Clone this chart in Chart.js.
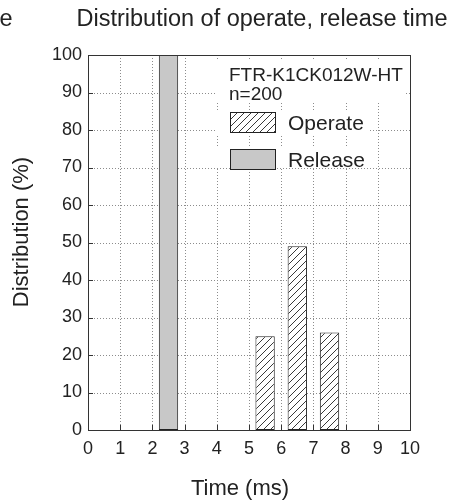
<!DOCTYPE html>
<html>
<head>
<meta charset="utf-8">
<script src="https://cdn.jsdelivr.net/npm/chart.js@4.4.1/dist/chart.umd.min.js"></script>
<style>
  html, body { margin: 0; padding: 0; background: #fff; }
</style>
</head>
<body>
<canvas id="grafico" width="454" height="502"></canvas>
<script>
// datos
const timeTicks = [0, 1, 2, 3, 4, 5, 6, 7, 8, 9, 10];
const pctTicks = [0, 10, 20, 30, 40, 50, 60, 70, 80, 90, 100];
const operateTime = [5.5, 6.5, 7.5];
const operatePct = [25, 49, 26];
const releaseTime = [2.5];
const releasePct = [100];
const seriesNames = ['Operate', 'Release'];
const modelName = 'FTR-K1CK012W-HT';
const sampleText = 'n=200';
const chartTitle = 'Distribution of operate, release time';
const xTitle = 'Time (ms)';
const yTitle = 'Distribution (%)';

const FONT = '"Liberation Sans", Arial, sans-serif';
const INK = '#222';
const canvas = document.getElementById('grafico');
const ctx = canvas.getContext('2d');

function makeHatch() {
    const c = document.createElement('canvas');
    c.width = 7; c.height = 7;
    const g = c.getContext('2d');
    g.fillStyle = '#fff';
    g.fillRect(0, 0, 7, 7);
    g.strokeStyle = '#222';
    g.lineWidth = 0.9;
    g.beginPath();
    g.moveTo(-1, 8); g.lineTo(8, -1);
    g.moveTo(-1, 1); g.lineTo(1, -1);
    g.moveTo(6, 8); g.lineTo(8, 6);
    g.stroke();
    return ctx.createPattern(c, 'repeat');
}
const hatch = makeHatch();

const marco = {
    id: 'marco',
    beforeDatasetsDraw(chart) {
        const { ctx, chartArea: a, scales: { x, y } } = chart;
        ctx.save();
        ctx.strokeStyle = '#8c8c8c';
        ctx.lineWidth = 1;
        ctx.setLineDash([1, 2]);
        ctx.beginPath();
        timeTicks.slice(1, -1).forEach(v => {
            const px = Math.round(x.getPixelForValue(v)) + 0.5;
            ctx.moveTo(px, a.top); ctx.lineTo(px, a.bottom);
        });
        pctTicks.slice(1, -1).forEach(v => {
            const py = Math.round(y.getPixelForValue(v)) + 0.5;
            ctx.moveTo(a.left, py); ctx.lineTo(a.right, py);
        });
        ctx.stroke();
        ctx.restore();
    },
    afterDatasetsDraw(chart) {
        const { ctx, chartArea: a, scales: { x, y } } = chart;
        ctx.save();
        // legend
        ctx.fillStyle = '#fff';
        ctx.fillRect(217, 60, 187, 43);
        ctx.fillRect(217, 110, 153, 25);
        ctx.fillRect(217, 146, 150, 22);
        ctx.fillStyle = INK;
        ctx.textBaseline = 'alphabetic';
        ctx.textAlign = 'left';
        ctx.font = '19px ' + FONT;
        ctx.fillText(modelName, 229, 81);
        ctx.fillText(sampleText, 229, 100);
        const ds = chart.data.datasets;
        const rows = [112, 149];
        ds.forEach((d, i) => {
            ctx.fillStyle = d.backgroundColor;
            ctx.fillRect(230, rows[i], 46, 21);
            ctx.strokeStyle = '#222';
            ctx.lineWidth = 1;
            ctx.strokeRect(230.5, rows[i] + 0.5, 45, 20);
            ctx.fillStyle = INK;
            ctx.font = '21px ' + FONT;
            ctx.fillText(d.label, 288, rows[i] + 18);
        });
        // frame
        ctx.strokeStyle = '#333';
        ctx.lineWidth = 1;
        ctx.strokeRect(Math.round(a.left) + 0.5, Math.round(a.top) + 0.5,
            Math.round(a.right - a.left), Math.round(a.bottom - a.top));
        // inward ticks
        ctx.beginPath();
        timeTicks.slice(1, -1).forEach(v => {
            const px = Math.round(x.getPixelForValue(v)) + 0.5;
            ctx.moveTo(px, a.bottom); ctx.lineTo(px, a.bottom - 5);
        });
        pctTicks.slice(1, -1).forEach(v => {
            const py = Math.round(y.getPixelForValue(v)) + 0.5;
            ctx.moveTo(a.left, py); ctx.lineTo(a.left + 5, py);
        });
        ctx.stroke();
        ctx.restore();
    },
    afterDraw(chart) {
        const { ctx } = chart;
        ctx.save();
        ctx.fillStyle = INK;
        ctx.textBaseline = 'alphabetic';
        ctx.font = '23.5px ' + FONT;
        ctx.textAlign = 'center';
        ctx.fillText(chartTitle, 262, 26);
        ctx.textAlign = 'left';
        ctx.fillText('e', -0.5, 26);
        ctx.font = '22px ' + FONT;
        ctx.textAlign = 'center';
        ctx.fillText(xTitle, 240, 495);
        ctx.translate(28, 232);
        ctx.rotate(-Math.PI / 2);
        ctx.fillText(yTitle, 0, 0);
        ctx.restore();
    }
};

new Chart(ctx, {
    type: 'bar',
    data: {
        datasets: [
            {
                label: seriesNames[0],
                data: operateTime.map((t, i) => ({ x: t, y: operatePct[i] })),
                backgroundColor: hatch,
                borderColor: '#222',
                borderWidth: 1,
                borderSkipped: false
            },
            {
                label: seriesNames[1],
                data: releaseTime.map((t, i) => ({ x: t, y: releasePct[i] })),
                backgroundColor: '#c8c8c8',
                borderColor: '#222',
                borderWidth: 1,
                borderSkipped: false
            }
        ]
    },
    options: {
        responsive: false,
        devicePixelRatio: 1,
        animation: false,
        grouped: false,
        categoryPercentage: 1,
        barPercentage: 0.6,
        layout: { padding: { top: 55, right: 44, left: 0, bottom: 0 } },
        plugins: { legend: { display: false }, title: { display: false }, tooltip: { enabled: false } },
        scales: {
            x: {
                type: 'linear',
                offset: false,
                min: 0, max: 10,
                afterFit: s => { s.height = 72; },
                afterBuildTicks: s => { s.ticks = timeTicks.map(v => ({ value: v })); },
                grid: { display: false, drawTicks: false, tickLength: 0, offset: false },
                border: { display: false },
                ticks: { padding: 8, color: INK, font: { family: FONT, size: 18 } }
            },
            y: {
                min: 0, max: 100,
                afterFit: s => { s.width = 88; },
                afterBuildTicks: s => { s.ticks = pctTicks.map(v => ({ value: v })); },
                grid: { display: false, drawTicks: false, tickLength: 0 },
                border: { display: false },
                ticks: { padding: 6, color: INK, font: { family: FONT, size: 18 } }
            }
        }
    },
    plugins: [marco]
});
</script>
</body>
</html>
